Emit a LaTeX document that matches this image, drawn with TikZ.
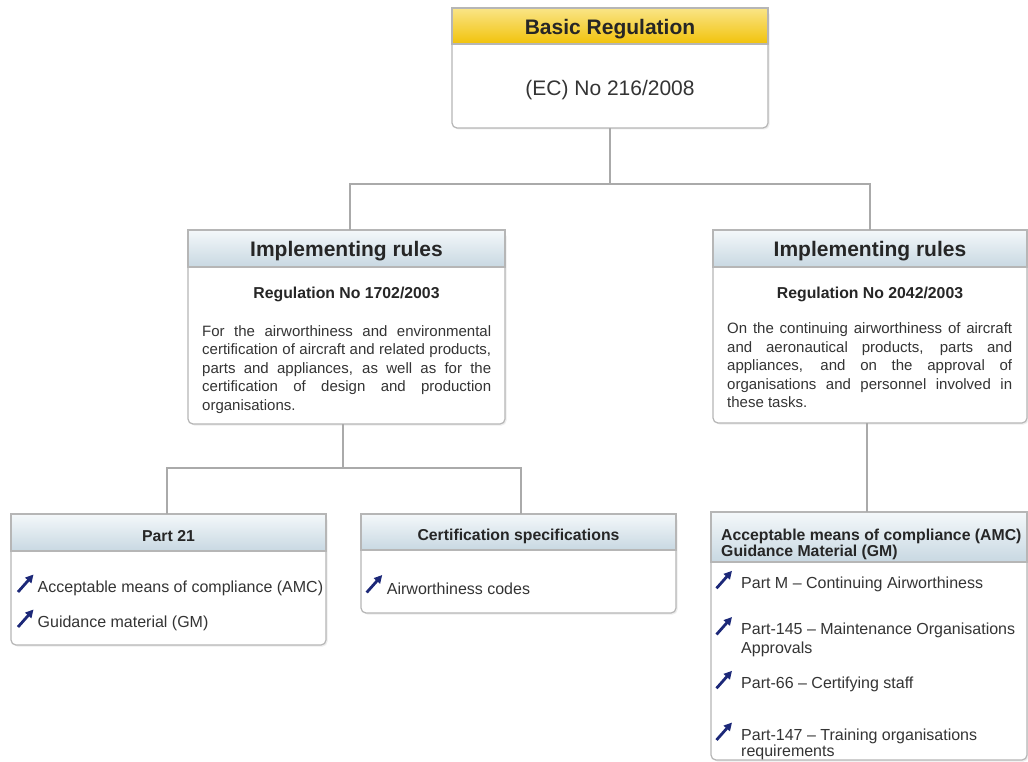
\documentclass[tikz,border=0pt]{standalone}
\usepackage{fontspec}
\setmainfont{Liberation Sans}
\usetikzlibrary{calc,arrows.meta}
\definecolor{bordc}{RGB}{182,182,182}
\definecolor{connc}{RGB}{170,170,170}
\definecolor{txtc}{RGB}{52,52,52}
\definecolor{hdtxt}{RGB}{38,38,38}
\definecolor{ytop}{RGB}{250,229,135}
\definecolor{ybot}{RGB}{241,194,10}
\definecolor{btop}{RGB}{244,248,250}
\definecolor{bbot}{RGB}{200,216,226}
\definecolor{iconc}{RGB}{28,40,120}
\tikzset{
  boxfr/.style={rectangle, draw=none, inner sep=0pt, outer sep=0pt},
  boxline/.style={draw=bordc, line width=1.2pt},
  conn/.style={draw=connc, line width=1.4pt},
  hdrbig/.style={font=\fontsize{21}{24}\selectfont\bfseries, text=hdtxt, inner sep=0pt, anchor=base},
  subbig/.style={font=\fontsize{21}{24}\selectfont, text=txtc, inner sep=0pt, anchor=base},
  hdrmid/.style={font=\fontsize{15.8}{18}\selectfont\bfseries, text=hdtxt, inner sep=0pt, anchor=base},
  bodytxt/.style={font=\fontsize{15}{18.5}\selectfont, text=txtc, inner sep=0pt, anchor=base west},
  itemtxt/.style={font=\fontsize{16}{19}\selectfont, text=txtc, inner sep=0pt, anchor=base west},
  iconarrow/.style={draw=iconc, line width=2.8pt, -{Triangle[length=8pt,width=8pt]}},
}
% name, x, y, w, h, header height, top colour, bottom colour
\newcommand\regbox[8]{%
  \node[boxfr, minimum width=#4pt, minimum height=#5pt, anchor=north west] (#1) at (#2,#3) {};
  \fill[black!7, rounded corners=5pt] ($(#1.north west)+(1.5,1.5)$) rectangle ($(#1.south east)+(1.5,1.5)$);
  \fill[white, rounded corners=5pt] (#1.north west) rectangle (#1.south east);
  \draw[boxline, rounded corners=5pt] (#1.north west) rectangle (#1.south east);
  \shade[top color=#7, bottom color=#8] (#1.north west) rectangle ($(#1.north east)+(0,#6)$);
  \draw[boxline] (#1.north west) rectangle ($(#1.north east)+(0,#6)$);
}
% node, x offset of tail, y offset of tail
\newcommand\itemicon[3]{\draw[iconarrow] ($(#1.base west)+(#2,#3)$) -- ($(#1.base west)+(#2+15.5,#3-17.5)$);}
\newcommand\twolines[3]{\vtop{\baselineskip=#1pt\hbox{#2}\hbox{#3}}}
\newcommand\bodypar[2]{\parbox[t]{#1pt}{\fontsize{15}{18.5}\selectfont\hyphenpenalty=10000\tolerance=10000\pretolerance=-1\parfillskip=0pt plus 1fil #2}}
\begin{document}
\begin{tikzpicture}[x=1pt, y=-1pt]
\useasboundingbox[fill=white] (0,0) rectangle (1028,762);

% boxes
\regbox{breg}{452}{8}{316}{120}{36}{ytop}{ybot}
\regbox{irl}{188}{230}{317}{194}{37}{btop}{bbot}
\regbox{irr}{713}{230}{314}{193}{37}{btop}{bbot}
\regbox{p21}{11}{514}{315}{131}{37}{btop}{bbot}
\regbox{cs}{361}{514}{315}{99}{36}{btop}{bbot}
\regbox{amc}{711}{512}{316}{248}{50}{btop}{bbot}

% connectors
\coordinate (jtop) at ($(breg.south)+(0,56)$);
\draw[conn] (breg.south) -- (jtop);
\draw[conn] ([xshift=3.5pt]irl.north) |- (jtop) -| (irr.north);
\coordinate (jleft) at ($([xshift=-3.5pt]irl.south)+(0,44)$);
\draw[conn] ([xshift=-3.5pt]irl.south) -- (jleft);
\draw[conn] ([xshift=-1.5pt]p21.north) |- (jleft) -| ([xshift=2.5pt]cs.north);
\draw[conn] ([xshift=-3pt]irr.south) -- ([xshift=-3pt]irr.south |- amc.north);

% top box texts
\node[hdrbig] (bregh) at (610,34.3) {Basic Regulation};
\node[subbig] (bregs) at (610,95.5) {(EC) No 216/2008};

% left implementing rules
\node[hdrbig] (irlh) at (346.5,256.7) {Implementing rules};
\node[hdrmid] (irlr) at (346.5,298.5) {Regulation No 1702/2003};
\node[bodytxt] (irlb) at (202,336) {\bodypar{289}{For the airworthiness and environmental\linebreak certification of aircraft and related products,\linebreak parts and appliances, as well as for the\linebreak certification of design and production\linebreak organisations.}};

% right implementing rules
\node[hdrbig] (irrh) at (870,256.7) {Implementing rules};
\node[hdrmid] (irrr) at (870,298.5) {Regulation No 2042/2003};
\node[bodytxt] (irrb) at (727,333.5) {\bodypar{285}{On the continuing airworthiness of aircraft\linebreak and aeronautical products, parts and\linebreak appliances, and on the approval of\linebreak organisations and personnel involved in\linebreak these tasks.}};

% Part 21
\node[hdrmid] (p21h) at (168.5,541.5) {Part 21};
\node[itemtxt] (p21a) at (37.5,592) {Acceptable means of compliance (AMC)};
\node[itemtxt] (p21b) at (37.5,627) {Guidance material (GM)};
\itemicon{p21a}{-19.5}{0}
\itemicon{p21b}{-19.5}{0}

% Certification specifications
\node[hdrmid] (csh) at (518.5,540.5) {Certification specifications};
\node[itemtxt] (csa) at (386.7,594) {Airworthiness codes};
\itemicon{csa}{-20}{-1.5}

% AMC / GM
\node[hdrmid, anchor=base west] (amch) at (721,540) {\twolines{16.8}{Acceptable means of compliance (AMC)}{Guidance Material (GM)}};
\node[itemtxt] (amca) at (741,588.3) {Part M – Continuing Airworthiness};
\node[itemtxt] (amcb) at (741,634.5) {\twolines{19}{Part-145 – Maintenance Organisations}{Approvals}};
\node[itemtxt] (amcc) at (741,688.3) {Part-66 – Certifying staff};
\node[itemtxt] (amcd) at (741,740) {\twolines{16.5}{Part-147 – Training organisations}{requirements}};
\itemicon{amca}{-24.5}{0}
\itemicon{amcb}{-24.5}{0}
\itemicon{amcc}{-24.5}{0}
\itemicon{amcd}{-24.5}{0}
\end{tikzpicture}
\end{document}
